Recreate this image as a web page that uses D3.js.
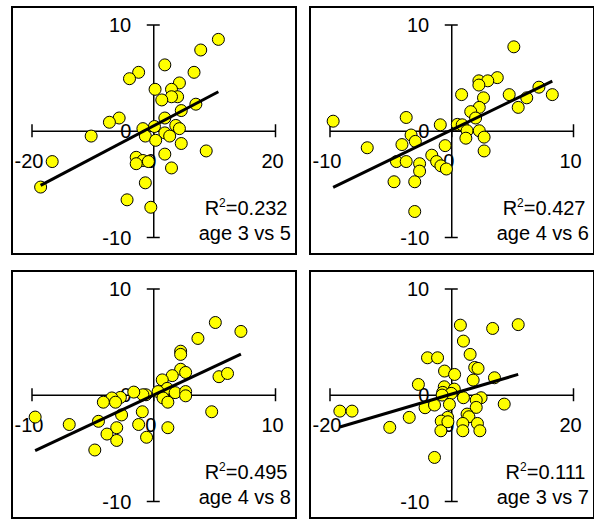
<!DOCTYPE html>
<html>
<head>
<meta charset="utf-8">
<script src="https://cdn.jsdelivr.net/npm/d3@7"></script>
<style>
  body { margin: 0; background: #fff; }
  svg text { font-family: "Liberation Sans", Arial, sans-serif; font-size: 20px; fill: #000; }
</style>
</head>
<body>
<div id="chart"></div>
<script>
// values, [x, y]
const age3v5 = [
  [10.7, 8.6], [7.8, 7.6], [1.9, 6.2], [6.7, 5.5], [-2.4, 5.5], [-3.9, 4.9], [4.3, 4.5],
  [0.3, 3.9], [3.0, 3.9], [4.0, 3.2], [3.0, 3.2], [1.4, 2.9], [7.0, 2.5], [4.6, 1.9],
  [-5.6, 1.2], [-7.2, 0.8], [1.9, 1.2], [3.7, 0.5], [4.3, 0.2], [0.2, 0.4], [-1.7, 0.2],
  [1.9, -0.2], [2.7, -0.5], [-1.3, -0.5], [0.4, -0.9], [-10.2, -0.5], [4.6, -1.2], [8.7, -1.9],
  [1.9, -2.2], [-2.8, -2.5], [-1.7, -2.8], [-0.8, -2.9], [-2.8, -3.1], [3.0, -3.5],
  [-16.6, -2.9], [-18.5, -5.3], [-1.3, -4.9], [-4.3, -6.5], [-0.4, -7.2]
];
const age4v6 = [
  [5.14, 7.9], [3.78, 5.0], [2.27, 4.7], [3.0, 4.7], [2.27, 4.3], [7.2, 4.1], [8.3, 3.4],
  [4.76, 3.4], [6.2, 3.1], [0.85, 3.4], [2.65, 3.1], [5.5, 2.2], [2.3, 2.2], [1.6, 1.8],
  [2.0, 1.2], [-9.7, 0.9], [-3.7, 1.25], [-0.9, 0.56], [0.5, 0.6], [0.9, 0.56], [1.3, 0],
  [2.3, 0], [1.2, -0.7], [2.7, -0.6], [-3.3, -0.4], [-2.95, -1.0], [-4.05, -1.3], [-0.5, -1.4],
  [-6.9, -1.6], [2.7, -1.9], [-1.6, -2.3], [-4.5, -2.9], [-3.7, -2.9], [-1.2, -2.9],
  [-0.85, -3.3], [-0.4, -3.6], [-2.6, -3.1], [-2.6, -3.8], [-4.7, -4.8], [-3.0, -4.8], [-3.0, -7.6]
];
const age4v8 = [
  [5.1, 6.8], [7.2, 5.96], [3.67, 5.3], [2.25, 4.1], [2.25, 3.8], [2.25, 2.4], [2.66, 2.1],
  [5.4, 1.7], [6.1, 2.0], [1.56, 1.8], [0.74, 1.4], [1.15, 0.6], [0.4, 0.3], [1.8, 0.2],
  [2.66, 0.3], [2.66, -0.1], [0.8, -0.3], [1.2, -0.7], [-0.6, 0], [-0.85, 0], [-1.6, 0.25],
  [-2.7, -0.25], [-3.4, -0.3], [-3.1, -0.7], [-4.1, -0.7], [-0.9, -1.6], [-2.6, -1.9],
  [-9.7, -2.1], [-6.9, -2.8], [-4.5, -2.5], [-1.2, -2.8], [1.2, -3.1], [-3.0, -3.1],
  [-3.8, -3.7], [-0.55, -4.0], [-3.0, -4.3], [-4.8, -5.2], [4.8, -1.6]
];
const age3v7 = [
  [11.0, 6.6], [1.5, 6.55], [6.8, 6.24], [2.0, 5.05], [3.1, 3.8], [-3.9, 3.48], [-2.25, 3.48],
  [3.85, 2.57], [4.4, 2.48], [-1.1, 2.23], [0.55, 1.91], [7.1, 1.6], [3.6, 1.38], [-5.4, 0.97],
  [-1.15, 0.75], [0.5, 0.53], [-1.4, 0.22], [0, 0.13], [-1.5, -0.03], [2.0, -0.28], [4.9, -0.28],
  [4.1, -0.5], [-4.3, -1.22], [-2.75, -0.97], [-0.3, -0.91], [8.7, -0.88], [4.1, -1.19],
  [-18.3, -1.54], [-16.3, -1.54], [-6.9, -2.13], [-0.6, -2.13], [2.6, -1.82], [2.9, -2.07],
  [-1.65, -2.48], [1.9, -2.7], [4.3, -2.7], [-10.1, -3.07], [-1.7, -3.39], [1.9, -3.39],
  [4.7, -3.39], [-2.75, -5.9], [-0.55, -2.54]
];

const panelData = [age3v5, age4v6, age4v8, age3v7];
const panelNames = ["age 3 vs 5", "age 4 vs 6", "age 4 vs 8", "age 3 vs 7"];
const r2Values = ["0.232", "0.427", "0.495", "0.111"];
const xLimits = [20, 10, 10, 20];
const yLimits = [10, 10, 10, 10];

const width = 594, height = 521;
const panelW = 284, panelH = 247;
const corners = [[12, 7], [310, 7], [12, 271], [310, 271]];

const svg = d3.select("#chart").append("svg")
  .attr("width", width)
  .attr("height", height);

// ordinary least squares, like the excel trendline
function linearFit(pts) {
  const mx = d3.mean(pts, d => d[0]), my = d3.mean(pts, d => d[1]);
  const sxy = d3.sum(pts, d => (d[0] - mx) * (d[1] - my));
  const sxx = d3.sum(pts, d => (d[0] - mx) * (d[0] - mx));
  const slope = sxy / sxx;
  return { slope, intercept: my - slope * mx };
}

// plain hyphen for negatives, like the original
const plain = d => String(d);

panelData.forEach((pts, i) => {
  const g = svg.append("g").attr("transform", `translate(${corners[i][0]},${corners[i][1]})`);

  g.append("rect")
    .attr("x", 0).attr("y", 0)
    .attr("width", panelW).attr("height", panelH)
    .attr("fill", "#fff").attr("stroke", "#000").attr("stroke-width", 2);

  const x = d3.scaleLinear().domain([-xLimits[i], xLimits[i]]).range([19.5, 263]);
  const y = d3.scaleLinear().domain([-yLimits[i], yLimits[i]]).range([230, 17.5]);

  // x axis through y = 0, crossing ticks
  const gx = g.append("g")
    .attr("transform", `translate(0,${y(0)})`)
    .call(d3.axisBottom(x).tickValues([-xLimits[i], 0, xLimits[i]]).tickSizeOuter(0).tickFormat(plain));
  gx.selectAll(".tick line").attr("y1", -6.5).attr("y2", 6.5);
  gx.selectAll(".tick text").attr("y", 30.5).attr("x", -3).attr("dy", "0.35em");

  // y axis through x = 0
  const gy = g.append("g")
    .attr("transform", `translate(${x(0)},0)`)
    .call(d3.axisLeft(y).tickValues([-yLimits[i], 0, yLimits[i]]).tickSizeOuter(0).tickFormat(plain));
  gy.selectAll(".tick line").attr("x1", -6.5).attr("x2", 6.5);
  gy.selectAll(".tick text").attr("x", -22).attr("dy", "0.35em");

  g.selectAll(".domain, .tick line").attr("stroke", "#000").attr("stroke-width", 1.5);
  g.selectAll(".tick text").attr("fill", "#000");
  gx.attr("font-size", null).attr("font-family", null);
  gy.attr("font-size", null).attr("font-family", null);

  g.selectAll("circle.pt")
    .data(pts)
    .enter().append("circle")
    .attr("class", "pt")
    .attr("cx", d => x(d[0]))
    .attr("cy", d => y(d[1]))
    .attr("r", 6)
    .attr("fill", "#ffff00")
    .attr("stroke", "#000")
    .attr("stroke-width", 1);

  const fit = linearFit(pts);
  const [x0, x1] = d3.extent(pts, d => d[0]);
  g.append("line")
    .attr("x1", x(x0)).attr("y1", y(fit.intercept + fit.slope * x0))
    .attr("x2", x(x1)).attr("y2", y(fit.intercept + fit.slope * x1))
    .attr("stroke", "#000")
    .attr("stroke-width", 3);

  const r2 = g.append("text")
    .attr("x", 275.5).attr("y", 208)
    .attr("text-anchor", "end");
  r2.append("tspan").text("R");
  r2.append("tspan").attr("font-size", 12).attr("dy", -8).text("2");
  r2.append("tspan").attr("dy", 8).text("=" + r2Values[i]);

  g.append("text")
    .attr("x", 279).attr("y", 232.5)
    .attr("text-anchor", "end")
    .text(panelNames[i]);
});
</script>
</body>
</html>
